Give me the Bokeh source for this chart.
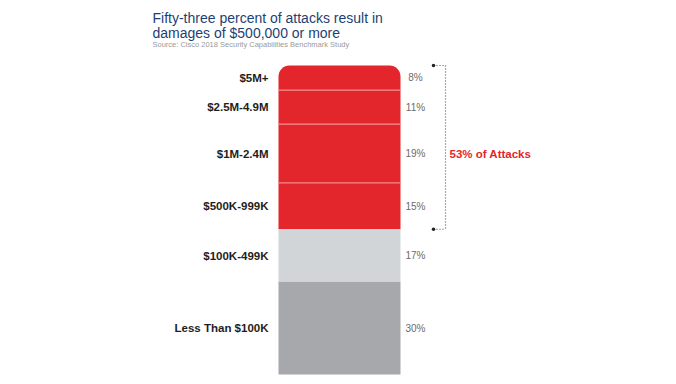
from bokeh.plotting import figure
from bokeh.models import Range1d, Label, ColumnDataSource
from bokeh.core.properties import value
from bokeh.embed import file_html
from bokeh.resources import INLINE

# ---- data ----
categories = ["$5M+", "$2.5M-4.9M", "$1M-2.4M", "$500K-999K", "$100K-499K", "Less Than $100K"]
percents = [8, 11, 19, 15, 17, 30]
pct_labels = ["8%", "11%", "19%", "15%", "17%", "30%"]
colors = ["#e2262b", "#e2262b", "#e2262b", "#e2262b", "#d1d5d8", "#a7a8ab"]
title_lines = ["Fifty-three percent of attacks result in", "damages of $500,000 or more"]
source_text = "Source: Cisco 2018 Security Capabilities Benchmark Study"
bracket_text = "53% of Attacks"
bracket_count = 4  # top four segments are in the bracket

W, H = 676, 384
FONT = "Liberation Sans"

# stacking from top (100) down
tops, bottoms = [], []
cur = sum(percents)
for v in percents:
    tops.append(cur)
    bottoms.append(cur - v)
    cur -= v
centers = [(t + b) / 2 for t, b in zip(tops, bottoms)]

# bar spans page y 65 (100%) to 374 (0%)
ppu = (374 - 65) / 100.0
p = figure(width=W, height=H, output_backend="svg", toolbar_location=None,
           x_range=Range1d(0, W), y_range=Range1d(-(H - 374) / ppu, 100 + 65 / ppu),
           min_border=0, min_border_left=0, min_border_right=0,
           min_border_top=0, min_border_bottom=0)
p.axis.visible = False
p.grid.visible = False
p.outline_line_color = None
p.background_fill_color = "white"
p.border_fill_color = "white"

bar_left, bar_right = 278, 400

src = ColumnDataSource(dict(top=tops, bottom=bottoms, color=colors,
                            cat=categories, pct=pct_labels, center=centers))

# top segment with rounded corners, others square
p.quad(left=bar_left, right=bar_right, top=tops[0], bottom=bottoms[0],
       fill_color=colors[0], line_color=None, border_radius=(11, 11, 0, 0))
rest = ColumnDataSource(dict(top=tops[1:], bottom=bottoms[1:], color=colors[1:]))
p.quad(left=bar_left, right=bar_right, top="top", bottom="bottom", source=rest,
       fill_color="color", line_color=None)

# separators between red segments
sep_y = bottoms[:bracket_count - 1]
p.segment(x0=[bar_left] * len(sep_y), x1=[bar_right] * len(sep_y), y0=sep_y, y1=sep_y,
          line_color="#f08a8c", line_width=1.2)

# category labels
p.text(x=268, y="center", text="cat", source=src, text_align="right",
       text_baseline="middle", text_font=value(FONT), text_font_size="11.5px",
       text_color="#1e1e1e", text_font_style="bold")
# percent labels
p.text(x=415, y="center", text="pct", source=src, text_align="center",
       text_baseline="middle", text_font=value(FONT), text_font_size="10px",
       text_color="#6b6b6b")

# bracket
b_top = tops[0]
b_bot = bottoms[bracket_count - 1]
p.segment(x0=[445, 433, 433], x1=[445, 445, 445], y0=[b_top, b_top, b_bot], y1=[b_bot, b_top, b_bot],
          line_color="#555555", line_width=1.2, line_dash="1 2")
p.scatter(x=[433, 433], y=[b_top, b_bot], size=3.5, fill_color="#222222", line_color=None)
p.text(x=[449], y=[centers[2]], text=[bracket_text], text_align="left",
       text_baseline="middle", text_font=value(FONT), text_font_size="11.5px",
       text_color="#e2262b", text_font_style="bold")

# title + source (screen units, from bottom of the figure)
def sy(page_y):
    return H - page_y

p.add_layout(Label(x=152, y=sy(17), x_units="screen", y_units="screen", text=title_lines[0],
                   text_font=FONT, text_font_size="14px", text_color="#1d3f73",
                   text_baseline="middle"))
p.add_layout(Label(x=152, y=sy(32), x_units="screen", y_units="screen", text=title_lines[1],
                   text_font=FONT, text_font_size="14px", text_color="#1d3f73",
                   text_baseline="middle"))
p.add_layout(Label(x=152, y=sy(44), x_units="screen", y_units="screen", text=source_text,
                   text_font=FONT, text_font_size="7.5px", text_color="#9a9a9a",
                   text_baseline="middle"))

open("out.html", "w").write(file_html(p, INLINE))
